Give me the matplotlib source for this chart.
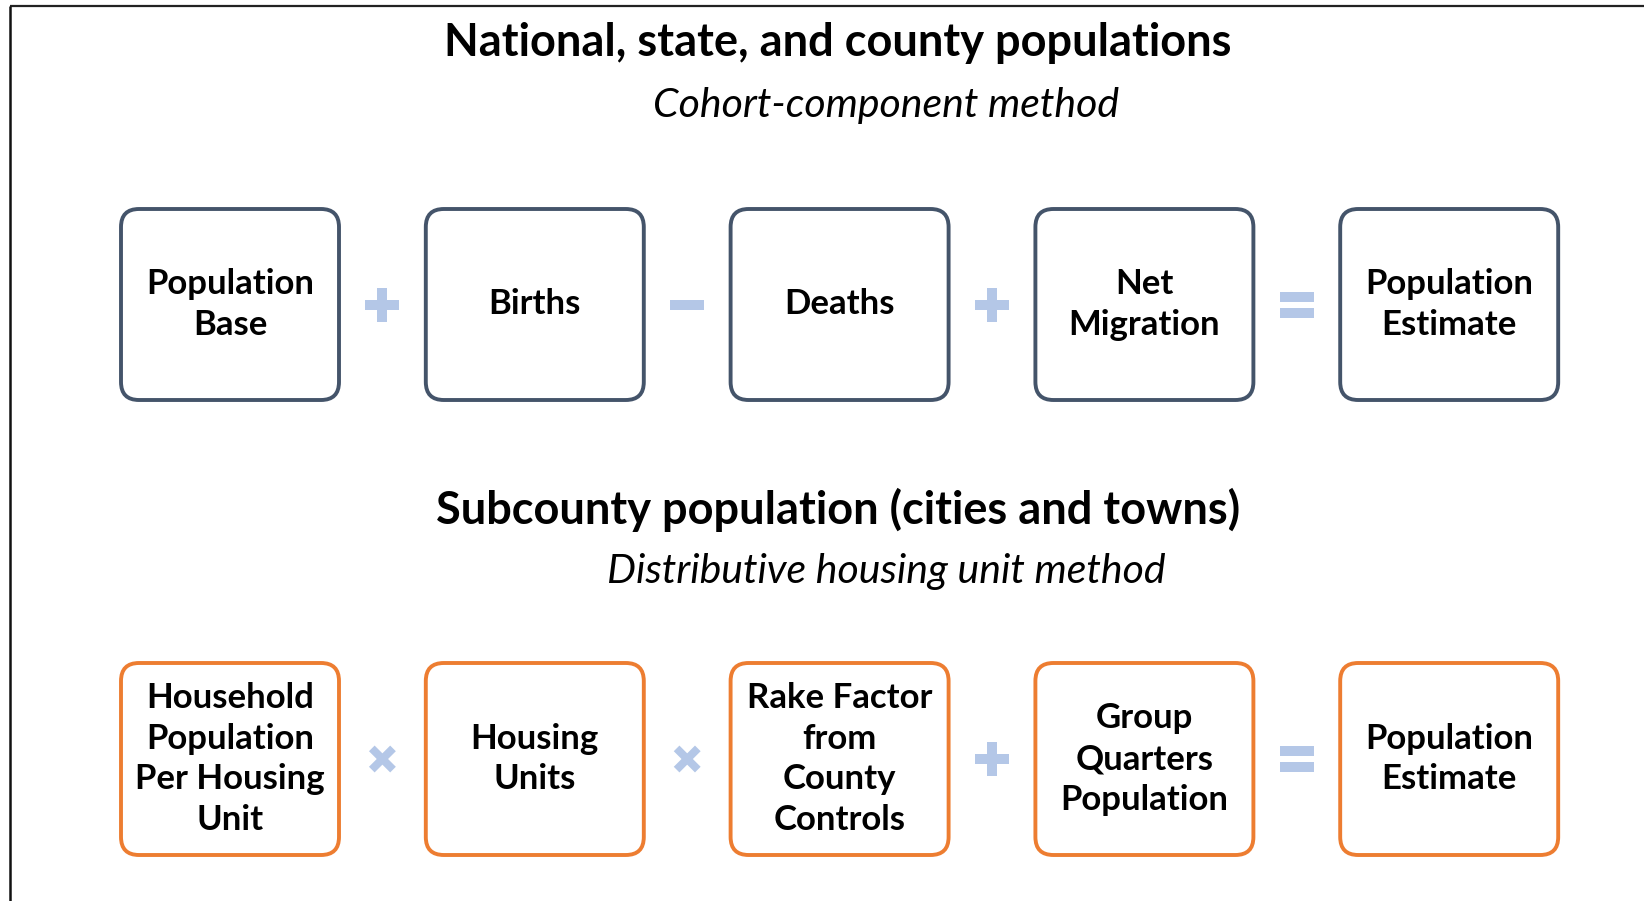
import matplotlib.pyplot as plt
from matplotlib.patches import FancyBboxPatch, Rectangle
import matplotlib.transforms as mtransforms

# diagram content
title_top = "National, state, and county populations"
sub_top = "Cohort-component method"
boxes_top = ["Population\nBase", "Births", "Deaths", "Net\nMigration", "Population\nEstimate"]
ops_top = ["+", "-", "+", "="]

title_bot = "Subcounty population (cities and towns)"
sub_bot = "Distributive housing unit method"
boxes_bot = ["Household\nPopulation\nPer Housing\nUnit", "Housing\nUnits",
             "Rake Factor\nfrom\nCounty\nControls", "Group\nQuarters\nPopulation",
             "Population\nEstimate"]
ops_bot = ["x", "x", "+", "="]

slate = "#44546A"
orange = "#ED7D31"
opcol = "#B4C7E7"

fig = plt.figure(figsize=(16.44, 9.01), dpi=100)
ax = fig.add_axes([0, 0, 1, 1])
ax.set_xlim(0, 1644)
ax.set_ylim(901, 0)
ax.axis("off")

# frame lines (top and left)
ax.plot([10, 1644], [6, 6], color="#222222", lw=1.6, solid_capstyle="butt")
ax.plot([10, 10], [6, 901], color="#111111", lw=1.8, solid_capstyle="butt")

fam = ["Lato", "DejaVu Sans"]
x0, bw, step = 121, 218, 304.8


def draw_op(kind, cx, cy):
    L, t = 34, 10
    if kind == "+" or kind == "x":
        rects = [Rectangle((cx - L / 2, cy - t / 2), L, t), Rectangle((cx - t / 2, cy - L / 2), t, L)]
        if kind == "x":
            L2 = 30
            rects = [Rectangle((cx - L2 / 2, cy - 4), L2, 8), Rectangle((cx - 4, cy - L2 / 2), 8, L2)]
            tr = mtransforms.Affine2D().rotate_deg_around(cx, cy, 45) + ax.transData
            for r in rects:
                r.set_transform(tr)
    elif kind == "-":
        rects = [Rectangle((cx - L / 2, cy - t / 2), L, t)]
    else:
        rects = [Rectangle((cx - L / 2, cy - 13), L, 10), Rectangle((cx - L / 2, cy + 3), L, 10)]
    for r in rects:
        r.set_facecolor(opcol)
        r.set_edgecolor("none")
        ax.add_patch(r)


def draw_row(labels, ops, y_top, h, ec):
    for i, lab in enumerate(labels):
        bx = x0 + i * step
        p = FancyBboxPatch((bx + 18, y_top + 18), bw - 36, h - 36,
                           boxstyle="round,pad=18", fc="white", ec=ec, lw=2.8)
        ax.add_patch(p)
        ax.text(bx + bw / 2, y_top + h / 2, lab, ha="center", va="center",
                fontsize=25, fontweight="bold", family=fam, linespacing=1.33)
    for i, op in enumerate(ops):
        cx = x0 + bw + (step - bw) / 2 + i * step
        draw_op(op, cx, y_top + h / 2)


ax.text(838, 43, title_top, ha="center", va="center", fontsize=32.5,
        fontweight="bold", family=fam)
ax.text(886, 105, sub_top, ha="center", va="center", fontsize=29.5,
        style="italic", family=fam)
draw_row(boxes_top, ops_top, 209, 191, slate)

ax.text(838, 510, title_bot, ha="center", va="center", fontsize=32.5,
        fontweight="bold", family=fam)
ax.text(886, 572, sub_bot, ha="center", va="center", fontsize=29.5,
        style="italic", family=fam)
draw_row(boxes_bot, ops_bot, 663, 192, orange)

fig.savefig("out.png", dpi=100)
